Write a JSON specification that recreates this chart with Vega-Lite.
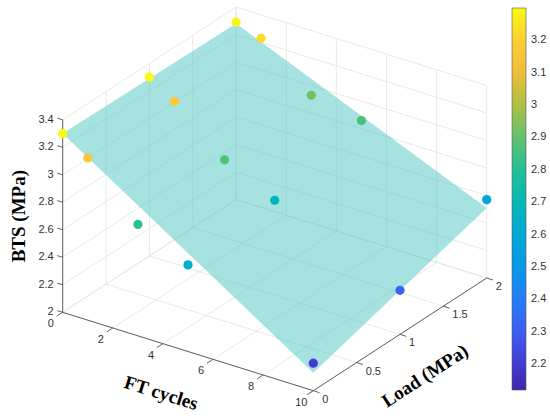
{
  "$schema": "https://vega.github.io/schema/vega-lite/v6.json",
  "description": "BTS vs FT cycles and load: fitted surface with measured points, drawn as a fixed 3D view (orthographic projection of ft, load, bts).",
  "width": 550,
  "height": 419,
  "autosize": "none",
  "padding": 0,
  "background": "white",
  "config": {"view": {"stroke": null}},
  "datasets": {
    "points": [
      {"ft": 0, "load": 0, "bts": 3.30},
      {"ft": 1, "load": 0, "bts": 3.18},
      {"ft": 3, "load": 0, "bts": 2.81},
      {"ft": 5, "load": 0, "bts": 2.63},
      {"ft": 10, "load": 0, "bts": 2.20},
      {"ft": 0, "load": 1, "bts": 3.30},
      {"ft": 1, "load": 1, "bts": 3.18},
      {"ft": 3, "load": 1, "bts": 2.87},
      {"ft": 5, "load": 1, "bts": 2.69},
      {"ft": 10, "load": 1, "bts": 2.32},
      {"ft": 0, "load": 2, "bts": 3.29},
      {"ft": 1, "load": 2, "bts": 3.23},
      {"ft": 3, "load": 2, "bts": 2.93},
      {"ft": 5, "load": 2, "bts": 2.86},
      {"ft": 10, "load": 2, "bts": 2.57}
    ],
    "surface": [
      {"k": 1, "ft": 0, "load": 0, "bts": 3.30},
      {"k": 2, "ft": 0, "load": 2, "bts": 3.28},
      {"k": 3, "ft": 10, "load": 2, "bts": 2.51},
      {"k": 4, "ft": 10, "load": 0, "bts": 2.13}
    ],
    "ftTicks": [{"ft": 0}, {"ft": 2}, {"ft": 4}, {"ft": 6}, {"ft": 8}, {"ft": 10}],
    "loadTicks": [{"load": 0}, {"load": 0.5}, {"load": 1}, {"load": 1.5}, {"load": 2}],
    "btsTicks": [{"bts": 2}, {"bts": 2.2}, {"bts": 2.4}, {"bts": 2.6}, {"bts": 2.8}, {"bts": 3}, {"bts": 3.2}, {"bts": 3.4}]
  },
  "encoding": {
    "x": {"field": "x", "type": "quantitative", "scale": {"domain": [0, 550], "nice": false, "zero": false}, "axis": null},
    "y": {"field": "y", "type": "quantitative", "scale": {"domain": [0, 419], "reverse": true, "nice": false, "zero": false}, "axis": null}
  },
  "layer": [
    {
      "data": {"name": "ftTicks"},
      "transform": [
        {"calculate": "62.7 + 25.06*datum.ft", "as": "x"},
        {"calculate": "312.3 + 7.84*datum.ft", "as": "y"},
        {"calculate": "datum.x + 173.4", "as": "x2"},
        {"calculate": "datum.y - 112.7", "as": "y2"}
      ],
      "mark": {"type": "rule", "color": "#e3e3e3", "strokeWidth": 0.8},
      "encoding": {"x2": {"field": "x2"}, "y2": {"field": "y2"}}
    },
    {
      "data": {"name": "ftTicks"},
      "transform": [
        {"calculate": "62.7 + 25.06*datum.ft + 173.4", "as": "x"},
        {"calculate": "312.3 + 7.84*datum.ft - 112.7", "as": "y"},
        {"calculate": "datum.y - 192.5", "as": "y2"}
      ],
      "mark": {"type": "rule", "color": "#e3e3e3", "strokeWidth": 0.8},
      "encoding": {"x2": {"field": "x"}, "y2": {"field": "y2"}}
    },
    {
      "data": {"name": "loadTicks"},
      "transform": [
        {"calculate": "62.7 + 86.7*datum.load", "as": "x"},
        {"calculate": "312.3 - 56.35*datum.load", "as": "y"},
        {"calculate": "datum.x + 250.6", "as": "x2"},
        {"calculate": "datum.y + 78.4", "as": "y2"}
      ],
      "mark": {"type": "rule", "color": "#e3e3e3", "strokeWidth": 0.8},
      "encoding": {"x2": {"field": "x2"}, "y2": {"field": "y2"}}
    },
    {
      "data": {"name": "loadTicks"},
      "transform": [
        {"calculate": "62.7 + 86.7*datum.load", "as": "x"},
        {"calculate": "312.3 - 56.35*datum.load", "as": "y"},
        {"calculate": "datum.y - 192.5", "as": "y2"}
      ],
      "mark": {"type": "rule", "color": "#e3e3e3", "strokeWidth": 0.8},
      "encoding": {"x2": {"field": "x"}, "y2": {"field": "y2"}}
    },
    {
      "data": {"name": "btsTicks"},
      "transform": [
        {"calculate": "62.7", "as": "x"},
        {"calculate": "312.3 - 137.5*(datum.bts - 2)", "as": "y"},
        {"calculate": "datum.x + 173.4", "as": "x2"},
        {"calculate": "datum.y - 112.7", "as": "y2"}
      ],
      "mark": {"type": "rule", "color": "#e3e3e3", "strokeWidth": 0.8},
      "encoding": {"x2": {"field": "x2"}, "y2": {"field": "y2"}}
    },
    {
      "data": {"name": "btsTicks"},
      "transform": [
        {"calculate": "62.7 + 173.4", "as": "x"},
        {"calculate": "312.3 - 112.7 - 137.5*(datum.bts - 2)", "as": "y"},
        {"calculate": "datum.x + 250.6", "as": "x2"},
        {"calculate": "datum.y + 78.4", "as": "y2"}
      ],
      "mark": {"type": "rule", "color": "#e3e3e3", "strokeWidth": 0.8},
      "encoding": {"x2": {"field": "x2"}, "y2": {"field": "y2"}}
    },
    {
      "data": {"name": "surface"},
      "transform": [
        {"calculate": "62.7 + 25.06*datum.ft + 86.7*datum.load", "as": "x"},
        {"calculate": "312.3 + 7.84*datum.ft - 56.35*datum.load - 137.5*(datum.bts - 2)", "as": "y"}
      ],
      "mark": {"type": "line", "fill": "#4ec5c1", "fillOpacity": 0.5, "strokeOpacity": 0, "interpolate": "linear-closed"},
      "encoding": {"order": {"field": "k", "type": "quantitative"}}
    },
    {
      "data": {"values": [
        {"ft": 0, "load": 0, "bts": 2, "ft2": 0, "load2": 0, "bts2": 3.4},
        {"ft": 0, "load": 0, "bts": 2, "ft2": 10, "load2": 0, "bts2": 2},
        {"ft": 10, "load": 0, "bts": 2, "ft2": 10, "load2": 2, "bts2": 2}
      ]},
      "transform": [
        {"calculate": "62.7 + 25.06*datum.ft + 86.7*datum.load", "as": "x"},
        {"calculate": "312.3 + 7.84*datum.ft - 56.35*datum.load - 137.5*(datum.bts - 2)", "as": "y"},
        {"calculate": "62.7 + 25.06*datum.ft2 + 86.7*datum.load2", "as": "x2"},
        {"calculate": "312.3 + 7.84*datum.ft2 - 56.35*datum.load2 - 137.5*(datum.bts2 - 2)", "as": "y2"}
      ],
      "mark": {"type": "rule", "color": "#505050", "strokeWidth": 0.9},
      "encoding": {"x2": {"field": "x2"}, "y2": {"field": "y2"}}
    },
    {
      "data": {"name": "ftTicks"},
      "transform": [
        {"calculate": "62.7 + 25.06*datum.ft", "as": "x"},
        {"calculate": "312.3 + 7.84*datum.ft", "as": "y"},
        {"calculate": "datum.x - 6.1", "as": "x2"},
        {"calculate": "datum.y + 3.9", "as": "y2"}
      ],
      "mark": {"type": "rule", "color": "#505050", "strokeWidth": 0.9},
      "encoding": {"x2": {"field": "x2"}, "y2": {"field": "y2"}}
    },
    {
      "data": {"name": "loadTicks"},
      "transform": [
        {"calculate": "62.7 + 250.6 + 86.7*datum.load", "as": "x"},
        {"calculate": "312.3 + 78.4 - 56.35*datum.load", "as": "y"},
        {"calculate": "datum.x + 6.3", "as": "x2"},
        {"calculate": "datum.y + 2", "as": "y2"}
      ],
      "mark": {"type": "rule", "color": "#505050", "strokeWidth": 0.9},
      "encoding": {"x2": {"field": "x2"}, "y2": {"field": "y2"}}
    },
    {
      "data": {"name": "btsTicks"},
      "transform": [
        {"calculate": "62.7", "as": "x"},
        {"calculate": "312.3 - 137.5*(datum.bts - 2)", "as": "y"},
        {"calculate": "datum.x - 5.5", "as": "x2"},
        {"calculate": "datum.y - 1.7", "as": "y2"}
      ],
      "mark": {"type": "rule", "color": "#505050", "strokeWidth": 0.9},
      "encoding": {"x2": {"field": "x2"}, "y2": {"field": "y2"}}
    },
    {
      "data": {"name": "ftTicks"},
      "transform": [
        {"calculate": "62.7 + 25.06*datum.ft", "as": "x"},
        {"calculate": "312.3 + 7.84*datum.ft", "as": "y"}
      ],
      "mark": {"type": "text", "dx": -12, "dy": 12, "align": "center", "baseline": "middle", "font": "Liberation Sans", "fontSize": 11, "color": "#333333"},
      "encoding": {"text": {"field": "ft", "type": "quantitative", "format": "~g"}}
    },
    {
      "data": {"name": "loadTicks"},
      "transform": [
        {"calculate": "62.7 + 250.6 + 86.7*datum.load", "as": "x"},
        {"calculate": "312.3 + 78.4 - 56.35*datum.load", "as": "y"}
      ],
      "mark": {"type": "text", "dx": 9, "dy": 9, "align": "left", "baseline": "middle", "font": "Liberation Sans", "fontSize": 11, "color": "#333333"},
      "encoding": {"text": {"field": "load", "type": "quantitative", "format": "~g"}}
    },
    {
      "data": {"name": "btsTicks"},
      "transform": [
        {"calculate": "62.7", "as": "x"},
        {"calculate": "312.3 - 137.5*(datum.bts - 2)", "as": "y"}
      ],
      "mark": {"type": "text", "dx": -9, "align": "right", "baseline": "middle", "font": "Liberation Sans", "fontSize": 11, "color": "#333333"},
      "encoding": {"text": {"field": "bts", "type": "quantitative", "format": "~g"}}
    },
    {
      "data": {"name": "points"},
      "transform": [
        {"calculate": "62.7 + 25.06*datum.ft + 86.7*datum.load", "as": "x"},
        {"calculate": "312.3 + 7.84*datum.ft - 56.35*datum.load - 137.5*(datum.bts - 2)", "as": "y"}
      ],
      "mark": {"type": "circle", "size": 85, "opacity": 1},
      "encoding": {
        "color": {
          "field": "bts",
          "type": "quantitative",
          "scale": {
            "domain": [2.12, 2.238, 2.356, 2.474, 2.592, 2.71, 2.828, 2.946, 3.064, 3.182, 3.30],
            "range": ["#3e26a8", "#4546e6", "#3a6ff8", "#2592ec", "#0fa8d6", "#17b8b4", "#35c08a", "#7cc15c", "#e6b83e", "#fcc838", "#f9f914"]
          },
          "legend": {
            "orient": "none",
            "legendX": 512,
            "legendY": 8,
            "direction": "vertical",
            "title": null,
            "padding": 0,
            "gradientLength": 382,
            "gradientThickness": 14,
            "gradientStrokeColor": "#555555",
            "gradientStrokeWidth": 0.6,
            "values": [2.2, 2.3, 2.4, 2.5, 2.6, 2.7, 2.8, 2.9, 3, 3.1, 3.2],
            "format": "~g",
            "labelOffset": 5,
            "labelFont": "Liberation Sans",
            "labelFontSize": 11,
            "labelColor": "#333333",
            "labelOverlap": false
          }
        }
      }
    },
    {
      "data": {"values": [{"t": "FT cycles", "ft": 6, "load": -0.6}]},
      "transform": [
        {"calculate": "62.7 + 25.06*datum.ft + 86.7*datum.load", "as": "x"},
        {"calculate": "312.3 + 7.84*datum.ft - 56.35*datum.load", "as": "y"}
      ],
      "mark": {"type": "text", "angle": 17.5, "align": "center", "baseline": "middle", "font": "Liberation Serif", "fontWeight": "bold", "fontSize": 19, "color": "#000000"},
      "encoding": {"text": {"field": "t"}}
    },
    {
      "data": {"values": [{"t": "Load (MPa)", "ft": 12.4, "load": 0.595}]},
      "transform": [
        {"calculate": "62.7 + 25.06*datum.ft + 86.7*datum.load", "as": "x"},
        {"calculate": "312.3 + 7.84*datum.ft - 56.35*datum.load", "as": "y"}
      ],
      "mark": {"type": "text", "angle": -33, "align": "center", "baseline": "middle", "font": "Liberation Serif", "fontWeight": "bold", "fontSize": 19, "color": "#000000"},
      "encoding": {"text": {"field": "t"}}
    },
    {
      "data": {"values": [{"t": "BTS (MPa)", "ft": -1.74, "load": 0, "bts": 2.6}]},
      "transform": [
        {"calculate": "62.7 + 25.06*datum.ft + 86.7*datum.load", "as": "x"},
        {"calculate": "312.3 + 7.84*datum.ft - 56.35*datum.load - 137.5*(datum.bts - 2)", "as": "y"}
      ],
      "mark": {"type": "text", "angle": -90, "align": "center", "baseline": "middle", "font": "Liberation Serif", "fontWeight": "bold", "fontSize": 19, "color": "#000000"},
      "encoding": {"text": {"field": "t"}}
    }
  ]
}
